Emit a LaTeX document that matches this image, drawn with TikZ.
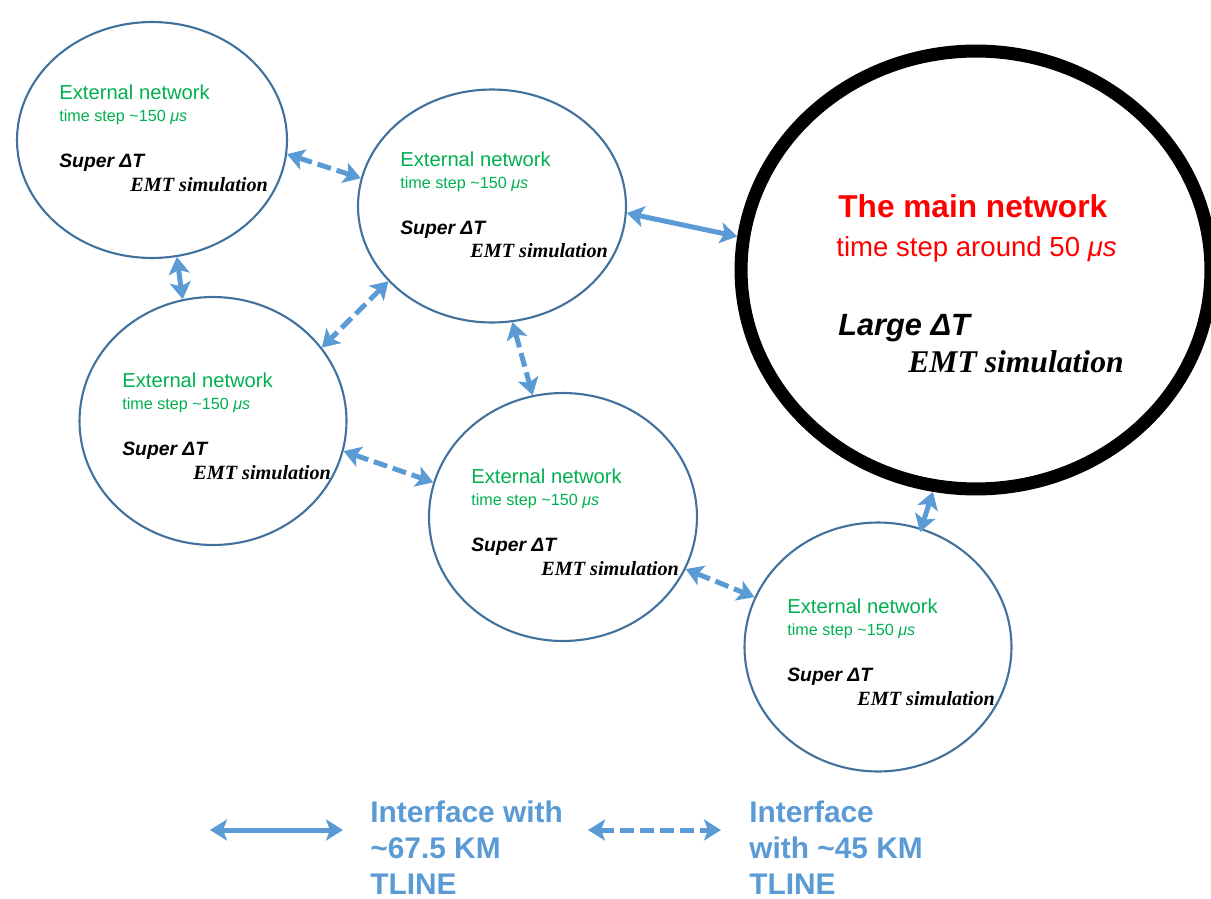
\documentclass[tikz,border=0pt]{standalone}
\usepackage{fontspec}
\setmainfont{Liberation Sans}
\newfontfamily\emtfont{Liberation Serif}
\definecolor{netblue}{RGB}{65,113,156}
\definecolor{tlblue}{RGB}{91,155,213}
\definecolor{extgreen}{RGB}{0,176,80}
\definecolor{mainred}{RGB}{255,0,0}
\usetikzlibrary{arrows.meta,positioning,shapes.geometric,calc}

\begin{document}
\begin{tikzpicture}[
  x=0.02cm, y=-0.02cm,
  extnet/.style={
    ellipse, draw=netblue, line width=1.2pt,
    inner sep=0pt
  },
  mainnet/.style={
    ellipse, draw=black, line width=0.26cm,
    inner sep=0pt
  },
  extname/.style={anchor=west, inner sep=0pt, text=extgreen,
    font=\fontsize{11.5}{13}\selectfont},
  extstep/.style={anchor=west, inner sep=0pt, text=extgreen,
    font=\fontsize{9.2}{11}\selectfont},
  superdt/.style={anchor=west, inner sep=0pt,
    font=\fontsize{11}{13}\selectfont\bfseries\itshape},
  emtsim/.style={anchor=west, inner sep=0pt,
    font=\emtfont\fontsize{11.5}{13}\selectfont\bfseries\itshape},
  legtext/.style={anchor=north west, inner sep=0pt, align=left, text=tlblue,
    font=\fontsize{17}{20.5}\selectfont\bfseries},
  tlong/.style={{Stealth[length=0.34cm,width=0.42cm,inset=0.08cm]}-{Stealth[length=0.34cm,width=0.42cm,inset=0.08cm]},
    line width=0.1cm, draw=tlblue},
  tshort/.style={tlong, dash pattern=on 0.28cm off 0.12cm}
]
\useasboundingbox (0,0) rectangle (1211,899);

% networks
\node[extnet, minimum width=5.4cm, minimum height=4.72cm]  (e1) at (152,140) {};
\node[extnet, minimum width=5.36cm, minimum height=4.66cm] (e2) at (492,206) {};
\node[extnet, minimum width=5.34cm, minimum height=4.96cm] (e3) at (213,421) {};
\node[extnet, minimum width=5.36cm, minimum height=4.96cm] (e4) at (563,517) {};
\node[extnet, minimum width=5.34cm, minimum height=4.98cm] (e5) at (878,647) {};
\node[mainnet, minimum width=9.4cm, minimum height=8.76cm] (main) at (976,270) {};

% texts
\node[extname] (e1a) at (59,92)  {External network};
\node[extstep] (e1b) at (59,117) {time step \textasciitilde150 \textit{μs}};
\node[superdt] (e1c) at (59,163) {Super ΔT};
\node[emtsim]  (e1d) at (130,185) {EMT simulation};

\node[extname] (e2a) at (400,159) {External network};
\node[extstep] (e2b) at (400,184) {time step \textasciitilde150 \textit{μs}};
\node[superdt] (e2c) at (400,230) {Super ΔT};
\node[emtsim]  (e2d) at (470,251) {EMT simulation};

\node[extname] (e3a) at (122,380) {External network};
\node[extstep] (e3b) at (122,405) {time step \textasciitilde150 \textit{μs}};
\node[superdt] (e3c) at (122,451) {Super ΔT};
\node[emtsim]  (e3d) at (193,473) {EMT simulation};

\node[extname] (e4a) at (471,476) {External network};
\node[extstep] (e4b) at (471,501) {time step \textasciitilde150 \textit{μs}};
\node[superdt] (e4c) at (471,547) {Super ΔT};
\node[emtsim]  (e4d) at (541,569) {EMT simulation};

\node[extname] (e5a) at (787,606) {External network};
\node[extstep] (e5b) at (787,631) {time step \textasciitilde150 \textit{μs}};
\node[superdt] (e5c) at (787,677) {Super ΔT};
\node[emtsim]  (e5d) at (857,699) {EMT simulation};

\node[anchor=west, inner sep=0pt, text=mainred, font=\fontsize{18}{21}\selectfont\bfseries]
  (maina) at (838,206) {The main network};
\node[anchor=west, inner sep=0pt, text=mainred, font=\fontsize{15.7}{19}\selectfont]
  (mainb) at (836,249) {time step around 50 \textit{μs}};
\node[anchor=west, inner sep=0pt, font=\fontsize{17.5}{21}\selectfont\bfseries\itshape]
  (mainc) at (838,328) {Large ΔT};
\node[anchor=west, inner sep=0pt, font=\emtfont\fontsize{18}{21}\selectfont\bfseries\itshape]
  (maind) at (908,362) {EMT simulation};

% interfaces
\draw[tshort] (e1.-6.3)  -- (e2.168.3);
\draw[tlong]  (e1.-78.5) -- (e3.104.9);
\draw[tshort] (e2.216.3) -- (e3.34.2);
\draw[tshort] (e2.-80)   -- (e4.104.8);
\draw[tshort] (e3.-13)   -- (e4.165.9);
\draw[tshort] (e4.-23)   -- (e5.158.7);
\draw[tlong]  (e2.-3)    -- (main.172.5);
\draw[tlong, shorten >=-0.08cm] (main.-101.2) -- (e5.70.3);

% legend
\coordinate (l1a) at (210,830);
\coordinate (l1b) at (343,830);
\coordinate (l2a) at (588,830);
\coordinate (l2b) at (721,830);
\draw[tlong]  (l1a) -- (l1b);
\draw[tshort] (l2a) -- (l2b);
\node[legtext] (l1t) at (370,800) {Interface with\\\textasciitilde67.5 KM\\TLINE};
\node[legtext] (l2t) at (749,800) {Interface\\with \textasciitilde45 KM\\TLINE};
\end{tikzpicture}
\end{document}
